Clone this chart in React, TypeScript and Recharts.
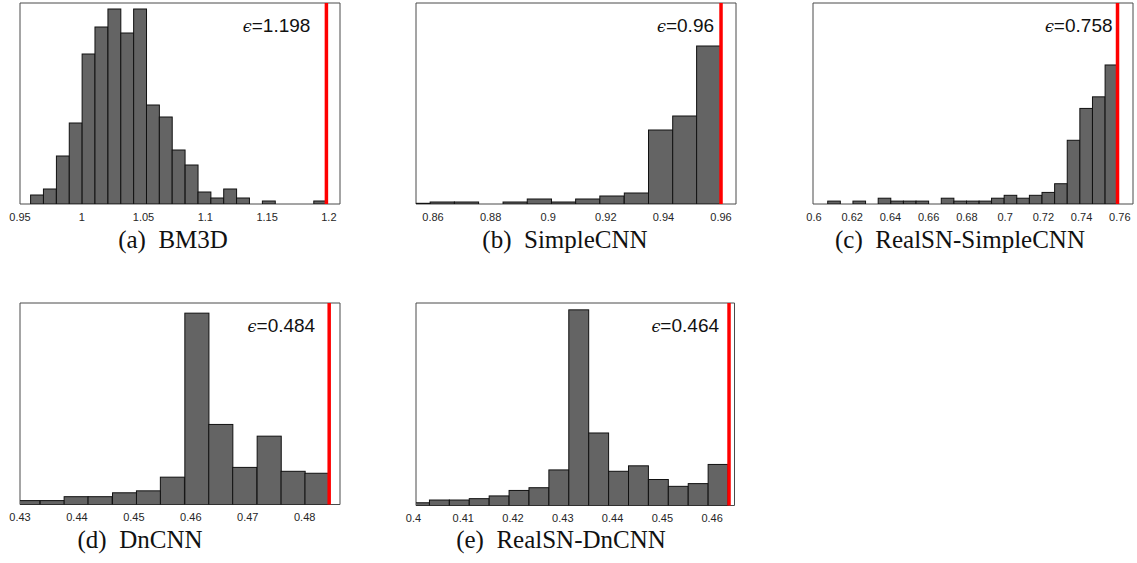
import React from 'react'
import { BarChart, Bar, XAxis, YAxis, ReferenceLine, ReferenceArea } from 'recharts'

// bin centres and counts
const bm3dBins = [
  0.9635, 0.9739, 0.9844, 0.9948, 1.0052, 1.0156, 1.0261, 1.0365, 1.0469, 1.0573, 1.0677, 1.0781,
  1.0886, 1.099, 1.1094, 1.1198, 1.1302, 1.1406, 1.1511, 1.1615, 1.1719, 1.1823, 1.1927,
]
const bm3dCounts = [3, 5, 16, 27, 50, 59, 65, 57, 65, 33, 29, 18, 13, 4, 2, 5, 2, 0, 1, 0, 0, 0, 1]
const bm3dTicks = [0.95, 1, 1.05, 1.1, 1.15, 1.2]

const simpleBins = [
  0.8549, 0.8633, 0.8717, 0.8801, 0.8886, 0.897, 0.9054, 0.9138, 0.9222, 0.9307, 0.9391, 0.9475, 0.9558,
]
const simpleCounts = [0.7, 2, 2, 0, 2, 5, 2, 5, 8, 11, 74, 88, 158]
const simpleTicks = [0.86, 0.88, 0.9, 0.92, 0.94, 0.96]

const realSimpleBins = [
  0.6103, 0.6169, 0.6235, 0.6301, 0.6367, 0.6433, 0.6499, 0.6565, 0.6631, 0.6697, 0.6763, 0.6829,
  0.6895, 0.696, 0.7026, 0.7092, 0.7158, 0.7224, 0.729, 0.7356, 0.7422, 0.7488, 0.7554,
]
const realSimpleCounts = [1, 0, 1, 0, 2, 1, 1, 1, 0, 2, 1, 1, 1, 2, 3, 2, 3, 4, 7, 22, 33, 37, 48]
const realSimpleTicks = [0.6, 0.62, 0.64, 0.66, 0.68, 0.7, 0.72, 0.74, 0.76]

const dncnnBins = [
  0.4314, 0.4357, 0.4399, 0.4441, 0.4484, 0.4526, 0.4568, 0.4611, 0.4653, 0.4695, 0.4738, 0.478, 0.4822,
]
const dncnnCounts = [2, 2, 4, 4, 6, 7, 14, 98, 41, 19, 35, 17, 16]
const dncnnTicks = [0.43, 0.44, 0.45, 0.46, 0.47, 0.48]

const realDncnnBins = [
  0.4012, 0.4052, 0.4092, 0.4132, 0.4172, 0.4212, 0.4252, 0.4292, 0.4332, 0.4372, 0.4412, 0.4452,
  0.4492, 0.4532, 0.4572, 0.4612,
]
const realDncnnCounts = [2, 4, 4, 5, 7, 11, 13, 26, 143, 53, 25, 29, 19, 14, 16, 30]
const realDncnnTicks = [0.4, 0.41, 0.42, 0.43, 0.44, 0.45, 0.46]

const epsilons = [1.198, 0.96, 0.7588, 0.4843, 0.4634]
const epsLabels = ['1.198', '0.96', '0.758', '0.484', '0.464']
const captions = ['(a)  BM3D', '(b)  SimpleCNN', '(c)  RealSN-SimpleCNN', '(d)  DnCNN', '(e)  RealSN-DnCNN']

type Panel = {
  bins: number[]
  counts: number[]
  ticks: number[]
  binWidth: number
  xDomain: [number, number]
  yMax: number
  box: { x: number; y: number; w: number; h: number }
  gap: number
}

const panels: Panel[] = [
  { bins: bm3dBins, counts: bm3dCounts, ticks: bm3dTicks, binWidth: 0.010422, xDomain: [0.95, 1.209], yMax: 67,
    box: { x: 19.5, y: 2.5, w: 320, h: 201 }, gap: 16 },
  { bins: simpleBins, counts: simpleCounts, ticks: simpleTicks, binWidth: 0.008417, xDomain: [0.8541, 0.9652], yMax: 201,
    box: { x: 415.5, y: 2.5, w: 320, h: 201 }, gap: 7 },
  { bins: realSimpleBins, counts: realSimpleCounts, ticks: realSimpleTicks, binWidth: 0.006596, xDomain: [0.5995, 0.7669], yMax: 69.4,
    box: { x: 812.5, y: 2.5, w: 320, h: 201 }, gap: 5 },
  { bins: dncnnBins, counts: dncnnCounts, ticks: dncnnTicks, binWidth: 0.00423, xDomain: [0.43, 0.4862], yMax: 103.2,
    box: { x: 19.5, y: 302.5, w: 320, h: 201.5 }, gap: 14 },
  { bins: realDncnnBins, counts: realDncnnCounts, ticks: realDncnnTicks, binWidth: 0.004, xDomain: [0.4005, 0.4645], yMax: 148,
    box: { x: 415.5, y: 302.5, w: 318.5, h: 202.5 }, gap: 10 },
]

const captionPos = [
  { x: 173, y: 248 },
  { x: 565, y: 248 },
  { x: 960, y: 248 },
  { x: 140, y: 548 },
  { x: 561, y: 548 },
]

const sans = '"Liberation Sans", Arial, Helvetica, sans-serif'

const EpsLabel = (props: any) => {
  const vb = props.viewBox || { x: 0, y: 0 }
  return (
    <text x={vb.x - props.gap} y={vb.y + 29} textAnchor="end" fontSize={19} fontFamily={sans} fill="#111">
      <tspan fontFamily='"DejaVu Serif", serif' fontStyle="italic" fontSize={16}>ϵ</tspan>={props.text}
    </text>
  )
}

// full-width histogram bin, centred on the slot recharts gives the bar
const BinShape = (props: any) => {
  const { x, y, width, height, binPx } = props
  if (!height || height <= 0) return null
  const cx = x + width / 2
  return (
    <rect x={cx - binPx / 2} y={y} width={binPx} height={height} fill="#646464" stroke="#111" strokeWidth={1} />
  )
}

const Hist = ({ p, i }: { p: Panel; i: number }) => {
  const data = p.bins.map((x, k) => ({ x, n: p.counts[k] }))
  const padX = 20
  const axisH = 30
  const barPx = (p.binWidth / (p.xDomain[1] - p.xDomain[0])) * p.box.w
  return (
    <div style={{ position: 'absolute', left: p.box.x - padX, top: p.box.y - 2 }}>
      <BarChart
        width={p.box.w + padX * 2}
        height={p.box.h + 2 + axisH}
        data={data}
        margin={{ top: 2, left: padX, right: padX, bottom: 0 }}
      >
        <XAxis
          dataKey="x"
          type="number"
          domain={p.xDomain}
          allowDataOverflow
          ticks={p.ticks}
          interval={0}
          tickLine={false}
          axisLine={false}
          tickMargin={3}
          height={axisH}
          tick={{ fontSize: 11, fontFamily: sans, fill: '#262626' }}
        />
        <YAxis type="number" domain={[0, p.yMax]} allowDataOverflow hide />
        <Bar
          dataKey="n"
          barSize={barPx}
          fill="#646464"
          isAnimationActive={false}
          shape={(sp: any) => <BinShape {...sp} binPx={barPx} />}
        />
        <ReferenceArea
          x1={p.xDomain[0]}
          x2={p.xDomain[1]}
          y1={0}
          y2={p.yMax}
          fill="none"
          stroke="#4a4a4a"
          strokeWidth={1}
          fillOpacity={0}
        />
        <ReferenceLine
          x={epsilons[i]}
          stroke="#ff0000"
          strokeWidth={3.5}
          label={<EpsLabel text={epsLabels[i]} gap={p.gap} />}
        />
      </BarChart>
    </div>
  )
}

export default function App() {
  return (
    <div style={{ position: 'absolute', left: 0, top: 0, width: 1137, height: 563, background: '#fff' }}>
      <svg width={1137} height={563} style={{ position: 'absolute', left: 0, top: 0 }}>
        {captions.map((c, i) => (
          <text
            key={c}
            x={captionPos[i].x}
            y={captionPos[i].y}
            textAnchor="middle"
            fontSize={25}
            fontFamily='"Liberation Serif", "Times New Roman", serif'
            fill="#111"
            style={{ whiteSpace: 'pre' }}
          >
            {c}
          </text>
        ))}
      </svg>
      {panels.map((p, i) => (
        <Hist key={i} p={p} i={i} />
      ))}
    </div>
  )
}
